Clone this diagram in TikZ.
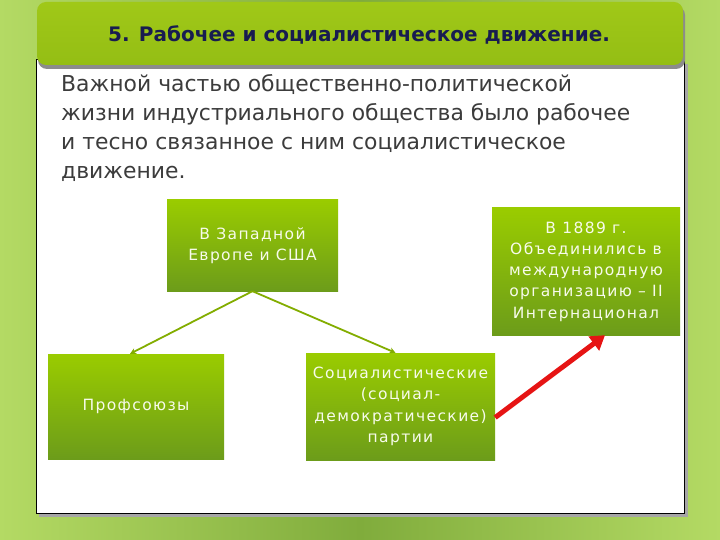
\documentclass[tikz,border=0pt]{standalone}
\usepackage{fontspec}
\setmainfont{DejaVu Sans}
\newfontfamily\boxfont{DejaVu Sans}[LetterSpace=9]
\usetikzlibrary{arrows.meta}
\usetikzlibrary{positioning}
\definecolor{bgedge}{RGB}{180,218,100}
\definecolor{bgmid}{RGB}{128,172,60}
\definecolor{bartop}{RGB}{160,200,24}
\definecolor{barbot}{RGB}{148,190,20}
\definecolor{boxtop}{RGB}{154,204,0}
\definecolor{boxbot}{RGB}{108,156,26}
\definecolor{titleblue}{RGB}{24,28,80}
\definecolor{bodygray}{RGB}{60,60,60}
\definecolor{arrowred}{RGB}{230,20,20}

\begin{document}
\begin{tikzpicture}[
		x=1pt, y=-1pt,
		greenbox/.style={rectangle, top color=boxtop, bottom color=boxbot,
				text=white!92!boxtop, align=center, font=\boxfont\fontsize{15.5}{21.3}\selectfont,
				inner sep=2pt},
		link/.style={draw=boxtop!85!black, line width=1.8pt,
				-{Stealth[length=6pt, width=6pt]}},
		redlink/.style={draw=arrowred, line width=5pt,
				-{Triangle[length=14pt, width=17pt]}}
	]

	% --- Background ---
	\useasboundingbox (0,0) rectangle (720,540);
	\shade[left color=bgedge, right color=bgedge, middle color=bgmid]
	(0,0) rectangle (720,540);

	% --- White panel ---
	\fill[black!35] (39,64) rectangle (688,517);
	\filldraw[fill=white, draw=black, line width=1pt] (36,60) rectangle (684,513);

	% --- Title bar ---
	\fill[rounded corners=9pt, black!45] (38,6) rectangle (685,69);
	\shade[rounded corners=9pt, top color=bartop, bottom color=barbot]
	(37,2) rectangle (683,65);
	\node (title) at (359,35) [text=titleblue, font=\bfseries\fontsize{20}{22}\selectfont]
	{5. Рабочее и социалистическое движение.};

	% --- Body text ---
	\node (intro) at (61,74) [anchor=north west, text=bodygray, align=left,
		font=\fontsize{21.9}{29}\selectfont, inner sep=0pt]
	{Важной частью общественно-политической\\
		жизни индустриального общества было рабочее\\
		и тесно связанное с ним социалистическое\\
		движение.};

	% --- Boxes ---
	\node (west) at (252.5,245.5) [greenbox, minimum width=171pt, minimum height=91pt]
	{В Западной\\ Европе и США};
	\node (unions) at (136,406.5) [greenbox, minimum width=176pt, minimum height=105pt]
	{Профсоюзы};
	\node (parties) at (400.5,406.5) [greenbox, minimum width=189pt, minimum height=107pt]
	{Социалистические\\ (социал-\\ демократические)\\ партии};
	\node (intl) at (586,271.5) [greenbox, minimum width=188pt, minimum height=127pt]
	{В 1889 г.\\ Объединились в\\ международную\\ организацию – II\\ Интернационал};

	% --- Arrows ---
	\draw[link] (west.south) -- ([xshift=-6pt]unions.north);
	\draw[link] (west.south) -- ([xshift=-5pt]parties.north);
	\draw[redlink] ([yshift=-11pt]parties.east) -- ([xshift=19pt]intl.south);

\end{tikzpicture}
\end{document}
